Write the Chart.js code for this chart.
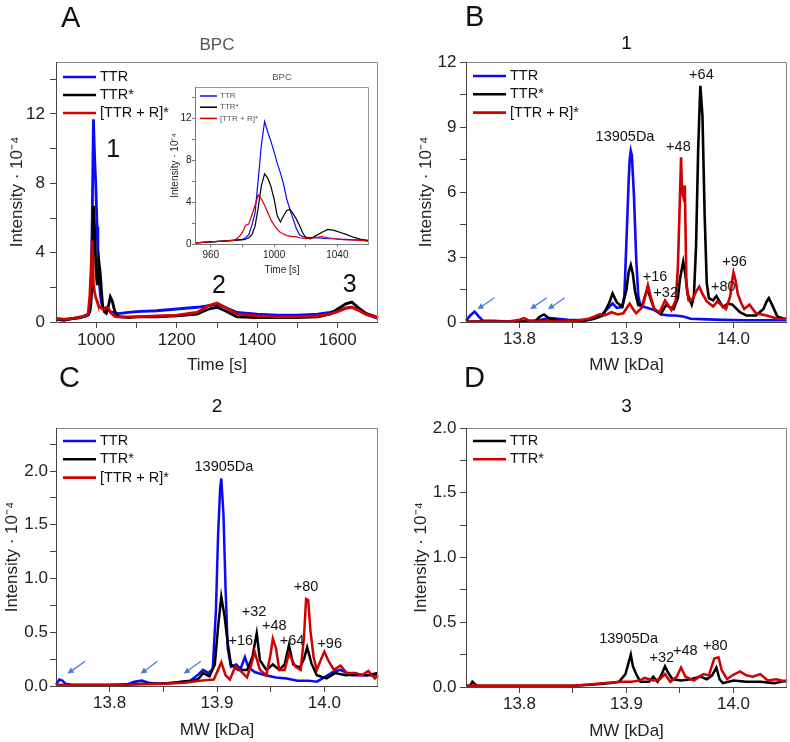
<!DOCTYPE html>
<html lang="en">
<head>
<meta charset="utf-8">
<title>TTR - BPC et spectres</title>
<script src="https://cdn.jsdelivr.net/npm/chart.js@4.4.1/dist/chart.umd.min.js"></script>
<style>
    html, body { margin: 0; padding: 0; background: #fff; }
    #page { position: relative; width: 790px; height: 742px; overflow: hidden; }
    #page canvas { position: absolute; }
    .lettre { position: absolute; font: 29px/1 "Liberation Sans", Arial, sans-serif; color: #111; }
</style>
</head>
<body>
<div id="page">
    <canvas id="graphiqueA"></canvas>
    <canvas id="graphiqueEncart"></canvas>
    <canvas id="graphiqueB"></canvas>
    <canvas id="graphiqueC"></canvas>
    <canvas id="graphiqueD"></canvas>
    <div class="lettre" style="left:61px; top:3px">A</div>
    <div class="lettre" style="left:465px; top:2px">B</div>
    <div class="lettre" style="left:59px; top:363px">C</div>
    <div class="lettre" style="left:464px; top:363px">D</div>
</div>
<script>
const POLICE = '"Liberation Sans", Arial, Helvetica, sans-serif';
const BLEU   = '#0a0af5';
const NOIR   = '#000000';
const ROUGE  = '#d20000';
const FLECHE = '#4a7fd0';
const TITRE_INTENSITE = 'Intensity · 10⁻⁴';

// ── Panneau A : BPC ─────────────────────────────────────────────────────────

const tempsA = [900, 920, 940, 960, 975, 980, 984, 987, 990, 993, 996, 999, 1002, 1004, 1007, 1010, 1013, 1016, 1020, 1025,
    1030, 1035, 1040, 1045, 1050, 1060, 1080, 1100, 1150, 1200, 1250, 1280, 1300, 1320, 1350, 1400, 1450, 1500, 1550, 1580,
    1600, 1620, 1635, 1650, 1670, 1700];
const ttrA = [0.2, 0.15, 0.2, 0.25, 0.4, 0.45, 0.7, 1.5, 6.0, 11.7, 9.5, 7.8, 5.5, 4.3, 2.5, 1.6, 1.1, 0.9, 0.75, 0.65,
    0.7, 0.6, 0.55, 0.55, 0.5, 0.5, 0.55, 0.6, 0.65, 0.75, 0.85, 0.95, 1.0, 0.85, 0.55, 0.45, 0.4, 0.4, 0.45, 0.55,
    0.65, 0.8, 0.85, 0.7, 0.45, 0.2];
const ttrEtoileA = [0.15, 0.1, 0.2, 0.25, 0.35, 0.4, 0.6, 1.1, 3.0, 6.7, 5.3, 3.2, 2.2, 2.7, 3.4, 2.8, 1.8, 0.9, 0.6, 0.5,
    0.9, 1.45, 1.2, 0.7, 0.4, 0.3, 0.25, 0.3, 0.3, 0.35, 0.45, 0.75, 0.85, 0.65, 0.3, 0.25, 0.25, 0.25, 0.3, 0.45,
    0.75, 1.05, 1.15, 0.85, 0.5, 0.25];
const ttrRA = [0.2, 0.15, 0.2, 0.3, 0.35, 0.5, 1.5, 3.0, 4.7, 2.2, 1.7, 1.4, 1.2, 1.05, 0.9, 0.85, 0.8, 0.75, 0.75, 0.85,
    0.8, 0.55, 0.45, 0.35, 0.3, 0.3, 0.3, 0.3, 0.35, 0.4, 0.55, 0.95, 1.1, 0.85, 0.45, 0.35, 0.3, 0.3, 0.35, 0.45,
    0.6, 0.8, 0.85, 0.7, 0.45, 0.25];
const graduationsTempsA = [1000, 1100, 1200, 1300, 1400, 1500, 1600];
const graduationsIntA   = [0, 2, 4, 6, 8, 10, 12, 14];
const reperesA = [
    { texte: '1', x: 1042, y: 9.9 },
    { texte: '2', x: 1305, y: 2.05 },
    { texte: '3', x: 1630, y: 2.15 },
];

// ── Encart : zoom sur le pic 1 ──────────────────────────────────────────────

const tempsEncart = [950, 955, 960, 965, 970, 975, 978, 980, 982, 984, 986, 988, 990, 992, 994, 996, 998, 1000, 1002, 1004,
    1006, 1008, 1010, 1012, 1014, 1016, 1018, 1020, 1023, 1026, 1030, 1034, 1038, 1042, 1046, 1050, 1055, 1060];
const ttrEncart = [0.1, 0.15, 0.2, 0.25, 0.3, 0.4, 0.4, 0.45, 0.6, 0.9, 1.8, 3.0, 6.2, 9.5, 11.7, 10.7, 9.8, 8.8, 7.7, 6.8,
    5.7, 4.3, 3.3, 2.4, 1.5, 0.9, 0.7, 0.65, 0.6, 0.6, 0.55, 0.5, 0.5, 0.45, 0.45, 0.4, 0.4, 0.35];
const ttrEtoileEncart = [0.1, 0.15, 0.2, 0.25, 0.3, 0.35, 0.4, 0.4, 0.45, 0.6, 0.9, 1.7, 3.5, 5.6, 6.7, 6.3, 5.5, 4.3, 2.7, 2.1,
    2.7, 3.2, 3.3, 2.9, 2.4, 1.8, 1.1, 0.6, 0.5, 0.75, 1.1, 1.4, 1.3, 1.1, 0.9, 0.65, 0.45, 0.3];
const ttrREncart = [0.1, 0.15, 0.2, 0.25, 0.3, 0.35, 0.7, 1.1, 1.8, 1.9, 2.8, 3.7, 4.7, 4.3, 3.7, 3.0, 2.3, 1.8, 1.4, 1.1,
    0.95, 0.8, 0.75, 0.7, 0.7, 0.6, 0.55, 0.5, 0.55, 0.6, 0.7, 0.6, 0.5, 0.45, 0.4, 0.4, 0.35, 0.25];
const graduationsTempsEncart = [960, 980, 1000, 1020, 1040];
const graduationsIntEncart   = [0, 2, 4, 6, 8, 10, 12, 14];

// ── Spectres (MW en kDa) ────────────────────────────────────────────────────

const graduationsMW = [13.8, 13.85, 13.9, 13.95, 14.0];

// Panneau B : pic 1
const mwTtrB = [13.750, 13.754, 13.758, 13.762, 13.766, 13.775, 13.790, 13.810, 13.820, 13.828, 13.836, 13.845, 13.860,
    13.875, 13.882, 13.887, 13.891, 13.896, 13.898, 13.900, 13.902, 13.903, 13.904, 13.905, 13.907, 13.909, 13.911,
    13.913, 13.916, 13.920, 13.926, 13.933, 13.940, 13.946, 13.953, 13.960, 13.975, 13.990, 14.010, 14.030, 14.050];
const ttrB = [0.05, 0.3, 0.48, 0.25, 0.05, 0.05, 0.02, 0.03, 0.1, 0.18, 0.15, 0.1, 0.08,
    0.25, 0.6, 0.86, 0.65, 0.7, 1.2, 3.8, 6.5, 7.5, 7.9, 7.7, 5.8, 3.0, 1.2,
    0.75, 0.7, 0.65, 0.55, 0.35, 0.3, 0.3, 0.25, 0.15, 0.12, 0.1, 0.08, 0.08, 0.08];
const mwTtrEtoileB = [13.750, 13.780, 13.800, 13.815, 13.819, 13.823, 13.828, 13.840, 13.860, 13.870, 13.878, 13.884,
    13.887, 13.891, 13.896, 13.900, 13.902, 13.904, 13.906, 13.908, 13.911, 13.915, 13.918, 13.920, 13.923, 13.926,
    13.932, 13.937, 13.944, 13.948, 13.950, 13.953, 13.955, 13.957, 13.961, 13.963, 13.965, 13.967, 13.969, 13.971,
    13.973, 13.975, 13.977, 13.981, 13.984, 13.990, 13.995, 13.999, 14.006, 14.012, 14.021, 14.028, 14.031, 14.033,
    14.036, 14.041, 14.047, 14.050];
const ttrEtoileB = [0.02, 0.02, 0.02, 0.05, 0.25, 0.35, 0.15, 0.05, 0.05, 0.15, 0.3, 0.9,
    1.32, 0.9, 0.7, 1.5, 2.3, 2.63, 2.2, 1.4, 0.78, 0.8, 1.3, 1.48, 1.0, 0.6,
    0.37, 0.78, 0.6, 1.1, 2.0, 2.78, 2.2, 1.3, 0.8, 1.2, 3.5, 8.0, 10.9, 9.5,
    5.0, 1.8, 1.1, 1.0, 1.2, 0.7, 0.85, 0.8, 0.45, 0.3, 0.3, 0.6, 0.95, 1.1,
    0.8, 0.25, 0.15, 0.15];
const mwTtrRB = [13.750, 13.790, 13.800, 13.804, 13.808, 13.815, 13.850, 13.865, 13.875, 13.880, 13.886, 13.892, 13.897,
    13.901, 13.903, 13.906, 13.909, 13.915, 13.918, 13.920, 13.923, 13.926, 13.931, 13.936, 13.942, 13.946, 13.948,
    13.9495, 13.951, 13.952, 13.953, 13.9545, 13.956, 13.958, 13.961, 13.965, 13.968, 13.971, 13.975, 13.981, 13.985,
    13.993, 13.997, 13.999, 14.000, 14.002, 14.004, 14.007, 14.010, 14.015, 14.021, 14.031, 14.041, 14.050];
const ttrRB = [0.02, 0.02, 0.1, 0.18, 0.08, 0.02, 0.05, 0.15, 0.35, 0.32, 0.45, 0.35, 0.4,
    0.7, 0.85, 0.6, 0.4, 0.7, 1.3, 1.7, 1.1, 0.6, 0.45, 1.0, 0.55, 1.0, 2.5,
    5.0, 7.6, 6.0, 5.8, 6.3, 1.8, 1.0, 1.0, 1.4, 1.63, 1.3, 0.95, 0.72, 0.95,
    0.6, 1.2, 2.0, 2.28, 1.9, 1.3, 0.9, 0.6, 0.8, 0.4, 0.3, 0.15, 0.15];
const graduationsIntB = [0, 1.5, 3, 4.5, 6, 7.5, 9, 10.5, 12];

// Panneau C : pic 2
const mwTtrC = [13.750, 13.753, 13.756, 13.759, 13.765, 13.790, 13.815, 13.823, 13.830, 13.836, 13.845, 13.860, 13.875,
    13.883, 13.887, 13.892, 13.896, 13.899, 13.901, 13.903, 13.904, 13.906, 13.908, 13.910, 13.913, 13.918, 13.922,
    13.926, 13.929, 13.935, 13.945, 13.955, 13.965, 13.975, 13.985, 13.993, 14.000, 14.008, 14.015, 14.025, 14.035,
    14.050];
const ttrC = [0.01, 0.06, 0.05, 0.02, 0.01, 0.01, 0.01, 0.04, 0.05, 0.03, 0.02, 0.03, 0.05,
    0.11, 0.15, 0.12, 0.16, 0.7, 1.4, 1.85, 1.93, 1.6, 0.9, 0.35, 0.18, 0.2, 0.16,
    0.27, 0.18, 0.13, 0.1, 0.08, 0.07, 0.05, 0.05, 0.04, 0.08, 0.13, 0.15, 0.1, 0.1,
    0.1];
const mwTtrEtoileC = [13.750, 13.800, 13.830, 13.850, 13.868, 13.878, 13.883, 13.887, 13.893, 13.898, 13.901, 13.904,
    13.907, 13.910, 13.913, 13.920, 13.928, 13.933, 13.937, 13.940, 13.946, 13.952, 13.958, 13.963, 13.967, 13.971,
    13.977, 13.981, 13.984, 13.988, 13.993, 14.002, 14.010, 14.020, 14.030, 14.040, 14.050];
const ttrEtoileC = [0.01, 0.01, 0.02, 0.02, 0.04, 0.05, 0.07, 0.12, 0.09, 0.2, 0.55, 0.83,
    0.65, 0.4, 0.2, 0.15, 0.15, 0.27, 0.49, 0.24, 0.15, 0.2, 0.15, 0.2, 0.38, 0.2,
    0.17, 0.25, 0.36, 0.21, 0.1, 0.07, 0.12, 0.1, 0.11, 0.1, 0.12];
const mwTtrRC = [13.750, 13.800, 13.850, 13.870, 13.885, 13.897, 13.901, 13.904, 13.908, 13.912, 13.917, 13.921, 13.928,
    13.932, 13.935, 13.940, 13.946, 13.950, 13.952, 13.955, 13.958, 13.963, 13.967, 13.973, 13.978, 13.981, 13.983,
    13.985, 13.987, 13.990, 13.993, 13.997, 14.000, 14.004, 14.009, 14.015, 14.021, 14.029, 14.035, 14.041, 14.047,
    14.050];
const ttrRC = [0.01, 0.01, 0.02, 0.03, 0.05, 0.06, 0.15, 0.22, 0.1, 0.06, 0.18, 0.15, 0.08,
    0.2, 0.32, 0.15, 0.1, 0.3, 0.44, 0.35, 0.15, 0.15, 0.3, 0.18, 0.15, 0.45, 0.81,
    0.8, 0.52, 0.27, 0.15, 0.25, 0.32, 0.23, 0.15, 0.19, 0.12, 0.12, 0.1, 0.14, 0.07,
    0.1];
const graduationsIntC = [0, 0.25, 0.5, 0.75, 1.0, 1.25, 1.5, 1.75, 2.0, 2.25];

// Panneau D : pic 3
const mwNoirD = [13.750, 13.754, 13.756, 13.760, 13.800, 13.850, 13.870, 13.885, 13.893, 13.899, 13.902, 13.904, 13.906,
    13.909, 13.913, 13.921, 13.925, 13.929, 13.933, 13.936, 13.939, 13.943, 13.951, 13.960, 13.969, 13.975, 13.980,
    13.984, 13.987, 13.990, 14.000, 14.012, 14.025, 14.038, 14.050];
const noirD = [0.01, 0.01, 0.04, 0.01, 0.01, 0.01, 0.02, 0.03, 0.04, 0.1, 0.19, 0.25, 0.16,
    0.1, 0.04, 0.04, 0.08, 0.04, 0.1, 0.16, 0.11, 0.06, 0.05, 0.06, 0.08, 0.06, 0.09,
    0.15, 0.06, 0.03, 0.05, 0.04, 0.04, 0.03, 0.05];
const mwRougeD = [13.750, 13.800, 13.850, 13.865, 13.880, 13.895, 13.905, 13.912, 13.917, 13.925, 13.931, 13.936, 13.941,
    13.947, 13.951, 13.955, 13.963, 13.968, 13.972, 13.977, 13.982, 13.986, 13.989, 13.994, 13.999, 14.006, 14.012,
    14.018, 14.025, 14.032, 14.040, 14.050];
const rougeD = [0.01, 0.01, 0.01, 0.02, 0.03, 0.04, 0.04, 0.05, 0.07, 0.05, 0.06, 0.1, 0.04,
    0.08, 0.15, 0.08, 0.05, 0.08, 0.1, 0.09, 0.22, 0.23, 0.13, 0.06, 0.09, 0.12, 0.09,
    0.08, 0.1, 0.05, 0.06, 0.04];
const graduationsIntD = [0, 0.25, 0.5, 0.75, 1.0, 1.25, 1.5, 1.75, 2.0];

// ── Étiquettes des pics et flèches ──────────────────────────────────────────

const notesB = [
    { texte: '13905Da', x: 13.8986, y: 8.55 },
    { texte: '+16', x: 13.9266, y: 2.09 },
    { texte: '+32', x: 13.9366, y: 1.32 },
    { texte: '+48', x: 13.9485, y: 8.09 },
    { texte: '+64', x: 13.970, y: 11.4 },
    { texte: '+80', x: 13.9905, y: 1.6 },
    { texte: '+96', x: 14.001, y: 2.78 },
];
const notesC = [
    { texte: '13905Da', x: 13.9065, y: 2.04 },
    { texte: '+16', x: 13.9222, y: 0.42 },
    { texte: '+32', x: 13.9346, y: 0.69 },
    { texte: '+48', x: 13.9534, y: 0.56 },
    { texte: '+64', x: 13.970, y: 0.42 },
    { texte: '+80', x: 13.983, y: 0.92 },
    { texte: '+96', x: 14.005, y: 0.39 },
];
const notesD = [
    { texte: '13905Da', x: 13.902, y: 0.37 },
    { texte: '+32', x: 13.933, y: 0.226 },
    { texte: '+48', x: 13.955, y: 0.278 },
    { texte: '+80', x: 13.983, y: 0.316 },
];
const flechesB = [
    { x1: 13.7766, y1: 1.12, x2: 13.7606, y2: 0.59 },
    { x1: 13.8255, y1: 1.12, x2: 13.8099, y2: 0.59 },
    { x1: 13.8425, y1: 1.12, x2: 13.8264, y2: 0.59 },
];
const flechesC = [
    { x1: 13.7772, y1: 0.231, x2: 13.7606, y2: 0.114 },
    { x1: 13.8445, y1: 0.231, x2: 13.8289, y2: 0.114 },
    { x1: 13.8850, y1: 0.231, x2: 13.8690, y2: 0.114 },
];

// ── Outils ──────────────────────────────────────────────────────────────────

function estMajeur(v, pas) {
    return Math.abs(v / pas - Math.round(v / pas)) < 1e-6;
}

function serie(label, xs, ys, couleur, ordre) {
    return { label, data: xs.map((x, i) => ({ x, y: ys[i] })), borderColor: couleur, ordre };
}

// Cadre, légende dans le graphique, étiquettes et flèches
function decor(p) {
    return {
        id: 'decor',
        afterDatasetsDraw(chart) {
            const { ctx, chartArea: a, scales: { x, y } } = chart;
            ctx.save();

            ctx.lineWidth = 1;
            ctx.strokeStyle = p.cadreClair;
            ctx.beginPath();
            ctx.moveTo(a.left, a.top + 0.5);
            ctx.lineTo(a.right - 0.5, a.top + 0.5);
            ctx.lineTo(a.right - 0.5, a.bottom);
            ctx.stroke();
            ctx.strokeStyle = p.cadre;
            ctx.beginPath();
            ctx.moveTo(a.left + 0.5, a.top);
            ctx.lineTo(a.left + 0.5, a.bottom + 0.5);
            ctx.lineTo(a.right, a.bottom + 0.5);
            ctx.stroke();

            const lg = p.legende;
            ctx.font = `${lg.taille}px ${POLICE}`;
            ctx.textAlign = 'left';
            ctx.textBaseline = 'middle';
            chart.data.datasets.forEach((d, i) => {
                const yy = a.top + lg.y0 + i * lg.dy;
                ctx.strokeStyle = d.borderColor;
                ctx.lineWidth = lg.epaisseur;
                ctx.beginPath();
                ctx.moveTo(a.left + lg.x1, yy);
                ctx.lineTo(a.left + lg.x2, yy);
                ctx.stroke();
                ctx.fillStyle = lg.couleur;
                ctx.fillText(d.label, a.left + lg.xt, yy);
            });

            ctx.textAlign = 'center';
            ctx.fillStyle = '#111';
            ctx.font = `${p.tailleNotes}px ${POLICE}`;
            (p.notes ?? []).forEach(n => {
                ctx.fillText(n.texte, x.getPixelForValue(n.x), y.getPixelForValue(n.y));
            });

            ctx.strokeStyle = FLECHE;
            ctx.fillStyle = FLECHE;
            ctx.lineWidth = 1.3;
            (p.fleches ?? []).forEach(f => {
                const x1 = x.getPixelForValue(f.x1), y1 = y.getPixelForValue(f.y1);
                const x2 = x.getPixelForValue(f.x2), y2 = y.getPixelForValue(f.y2);
                const ang = Math.atan2(y2 - y1, x2 - x1);
                ctx.beginPath();
                ctx.moveTo(x1, y1);
                ctx.lineTo(x2 - 5 * Math.cos(ang), y2 - 5 * Math.sin(ang));
                ctx.stroke();
                ctx.beginPath();
                ctx.moveTo(x2, y2);
                ctx.lineTo(x2 - 7 * Math.cos(ang - 0.45), y2 - 7 * Math.sin(ang - 0.45));
                ctx.lineTo(x2 - 7 * Math.cos(ang + 0.45), y2 - 7 * Math.sin(ang + 0.45));
                ctx.closePath();
                ctx.fill();
            });

            ctx.restore();
        }
    };
}

function creerPanneau(id, p) {
    const toile = document.getElementById(id);
    const [cx, cy, w, h] = p.toile;
    const [L, T, R, B] = p.zone;
    toile.width = w;
    toile.height = h;
    toile.style.left = cx + 'px';
    toile.style.top = cy + 'px';

    const lhTitre = p.tailleTitre * 1.2;
    const lhAxe = p.tailleAxe * 1.2;
    const policeGrad = { family: POLICE, size: p.tailleGrad };
    const policeAxe = { family: POLICE, size: p.tailleAxe };
    const grille = { display: true, drawOnChartArea: false, drawTicks: true, tickLength: p.tick, tickColor: p.cadre, tickWidth: 1 };

    return new Chart(toile, {
        type: 'line',
        data: {
            datasets: p.series.map(s => ({
                label: s.label,
                data: s.data,
                borderColor: s.borderColor,
                order: s.ordre,
                borderWidth: p.epaisseur,
                pointRadius: 0,
                tension: 0,
                fill: false,
                clip: false,
            }))
        },
        options: {
            responsive: false,
            animation: false,
            devicePixelRatio: 1,
            events: [],
            layout: { padding: { left: 0, top: 0, right: cx + w - R, bottom: 0 } },
            plugins: {
                legend: { display: false },
                tooltip: { enabled: false },
                title: {
                    display: true, text: p.titre, fullSize: false, color: p.couleurTitre,
                    font: { family: POLICE, size: p.tailleTitre, weight: 'normal' },
                    padding: { top: p.titreY - cy - lhTitre / 2, bottom: T - p.titreY - lhTitre / 2 },
                },
            },
            scales: {
                x: {
                    type: 'linear', bounds: 'data', min: p.xMin, max: p.xMax,
                    afterBuildTicks: axe => { axe.ticks = p.xGrad.map(v => ({ value: v })); },
                    afterFit: axe => { axe.height = cy + h - B; },
                    grid: grille,
                    border: { display: false },
                    ticks: {
                        autoSkip: false, maxRotation: 0, padding: p.xPad, color: '#222', font: policeGrad,
                        callback: v => estMajeur(v, p.xPas) ? v.toFixed(p.xDecimales) : '',
                    },
                    title: {
                        display: true, text: p.xTitre, color: '#222', font: policeAxe,
                        padding: { top: 0, bottom: cy + h - p.xTitreY - lhAxe / 2 },
                    },
                },
                y: {
                    type: 'linear', bounds: 'data', min: p.yMin, max: p.yMax,
                    afterBuildTicks: axe => { axe.ticks = p.yGrad.map(v => ({ value: v })); },
                    afterFit: axe => { axe.width = L - cx; },
                    grid: grille,
                    border: { display: false },
                    ticks: {
                        autoSkip: false, padding: p.yPad, color: '#222', font: policeGrad,
                        callback: v => estMajeur(v, p.yPas) ? v.toFixed(p.yDecimales) : '',
                    },
                    title: {
                        display: true, text: TITRE_INTENSITE, color: '#222', font: policeAxe,
                        padding: { top: p.yTitreX - cx - lhAxe / 2, bottom: 0 },
                    },
                },
            },
        },
        plugins: [decor(p)],
    });
}

// ── Construction des panneaux ───────────────────────────────────────────────

const styleCommun = {
    tailleGrad: 17, tailleAxe: 17, tick: 6, tailleNotes: 14.5,
    cadre: '#444', cadreClair: '#888',
    legende: { x1: 7, x2: 40, xt: 44, y0: 14, dy: 18.3, taille: 14.5, epaisseur: 2.6, couleur: '#111' },
};

const mwCommun = {
    xMin: 13.75, xMax: 14.05, xGrad: graduationsMW, xPas: 0.1, xDecimales: 1, xTitre: 'MW [kDa]',
};

document.addEventListener('DOMContentLoaded', () => {
    creerPanneau('graphiqueA', {
        ...styleCommun,
        toile: [0, 0, 395, 385], zone: [56, 62, 378, 322],
        titre: 'BPC', titreY: 45, tailleTitre: 17, couleurTitre: '#555',
        xMin: 900, xMax: 1700, xGrad: graduationsTempsA, xPas: 200, xDecimales: 0, xTitre: 'Time [s]', xTitreY: 365, xPad: 2,
        yMin: 0, yMax: 15, yGrad: graduationsIntA, yPas: 4, yDecimales: 0, yTitreX: 17.5, yPad: 5,
        epaisseur: 2.8,
        legende: { ...styleCommun.legende, y0: 15, dy: 18 },
        tailleNotes: 25, notes: reperesA,
        series: [
            serie('TTR', tempsA, ttrA, BLEU, 3),
            serie('TTR*', tempsA, ttrEtoileA, NOIR, 2),
            serie('[TTR + R]*', tempsA, ttrRA, ROUGE, 1),
        ],
    });

    creerPanneau('graphiqueEncart', {
        toile: [160, 66, 213, 214], zone: [195, 87, 369, 244],
        titre: 'BPC', titreY: 77, tailleTitre: 9.5, couleurTitre: '#555',
        tailleGrad: 10, tailleAxe: 10, tick: 3, tailleNotes: 10,
        cadre: '#777', cadreClair: '#999',
        xMin: 950, xMax: 1060, xGrad: graduationsTempsEncart, xPas: 40, xDecimales: 0, xTitre: 'Time [s]', xTitreY: 270.5, xPad: 2,
        yMin: 0, yMax: 15, yGrad: graduationsIntEncart, yPas: 4, yDecimales: 0, yTitreX: 175, yPad: 0.5,
        epaisseur: 1.2,
        legende: { x1: 5, x2: 22, xt: 25, y0: 9, dy: 11.2, taille: 8, epaisseur: 1.5, couleur: '#555' },
        series: [
            serie('TTR', tempsEncart, ttrEncart, BLEU, 3),
            serie('TTR*', tempsEncart, ttrEtoileEncart, NOIR, 2),
            serie('[TTR + R]*', tempsEncart, ttrREncart, ROUGE, 1),
        ],
    });

    creerPanneau('graphiqueB', {
        ...styleCommun, ...mwCommun,
        toile: [395, 0, 395, 385], zone: [466, 62, 787, 322],
        titre: '1', titreY: 43.5, tailleTitre: 19, couleurTitre: '#111',
        xTitreY: 365, xPad: 1,
        yMin: 0, yMax: 12, yGrad: graduationsIntB, yPas: 3, yDecimales: 0, yTitreX: 426.5, yPad: 3.5,
        epaisseur: 2.6,
        notes: notesB, fleches: flechesB,
        series: [
            serie('TTR', mwTtrB, ttrB, BLEU, 3),
            serie('TTR*', mwTtrEtoileB, ttrEtoileB, NOIR, 2),
            serie('[TTR + R]*', mwTtrRB, ttrRB, ROUGE, 1),
        ],
    });

    creerPanneau('graphiqueC', {
        ...styleCommun, ...mwCommun,
        toile: [0, 371, 395, 371], zone: [56, 428, 378, 686],
        titre: '2', titreY: 407, tailleTitre: 19, couleurTitre: '#111',
        xTitreY: 730, xPad: 1,
        yMin: 0, yMax: 2.4, yGrad: graduationsIntC, yPas: 0.5, yDecimales: 1, yTitreX: 12.5, yPad: 2,
        epaisseur: 2.5,
        legende: { ...styleCommun.legende, y0: 13 },
        notes: notesC, fleches: flechesC,
        series: [
            serie('TTR', mwTtrC, ttrC, BLEU, 3),
            serie('TTR*', mwTtrEtoileC, ttrEtoileC, NOIR, 2),
            serie('[TTR + R]*', mwTtrRC, ttrRC, ROUGE, 1),
        ],
    });

    creerPanneau('graphiqueD', {
        ...styleCommun, ...mwCommun,
        toile: [395, 371, 395, 371], zone: [466, 428, 787, 687],
        titre: '3', titreY: 407, tailleTitre: 19, couleurTitre: '#111',
        xTitreY: 731, xPad: 1,
        yMin: 0, yMax: 2.0, yGrad: graduationsIntD, yPas: 0.5, yDecimales: 1, yTitreX: 421.5, yPad: 3.5,
        epaisseur: 2.5,
        legende: { ...styleCommun.legende, y0: 13 },
        notes: notesD,
        series: [
            serie('TTR', mwNoirD, noirD, NOIR, 2),
            serie('TTR*', mwRougeD, rougeD, ROUGE, 1),
        ],
    });
});
</script>
</body>
</html>
